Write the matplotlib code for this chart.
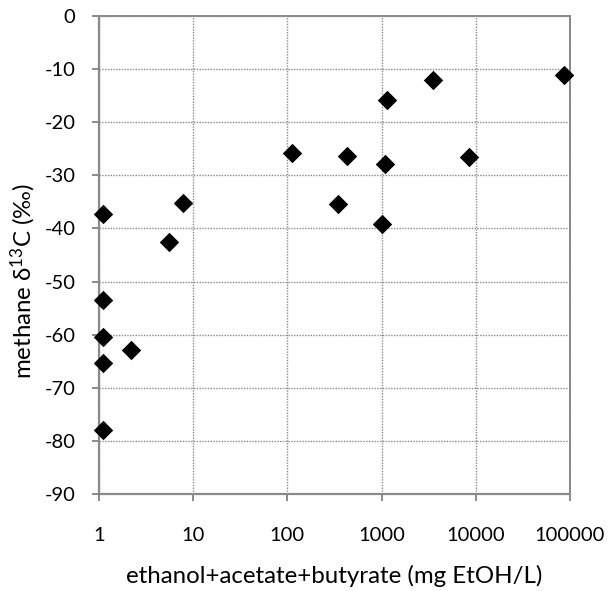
import matplotlib
matplotlib.use("Agg")
import matplotlib.pyplot as plt
from matplotlib.ticker import NullLocator

# Sum of ethanol, acetate and butyrate (mg EtOH/L) and methane delta-13C (permil)
total_vfa = [1.11, 5.48, 7.78, 113, 429, 348, 1017, 1077, 1140, 3497, 8453, 85900,
             1.11, 1.11, 2.16, 1.11, 1.11]
delta13c = [-37.2, -42.6, -35.3, -25.8, -26.4, -35.4, -39.2, -27.9, -15.9, -12.05, -26.6, -11.05,
            -53.5, -60.4, -62.8, -65.3, -78.0]

x_ticks = [1, 10, 100, 1000, 10000, 100000]
x_labels = ["1", "10", "100", "1000", "10000", "100000"]
y_ticks = list(range(-90, 1, 10))

plt.rcParams["font.family"] = ["Lato", "DejaVu Sans"]
plt.rcParams["mathtext.fontset"] = "custom"
plt.rcParams["mathtext.rm"] = "Lato"
plt.rcParams["mathtext.it"] = "Lato:italic"

W, H = 611, 591
fig = plt.figure(figsize=(W / 100, H / 100), dpi=100)
# plot area in pixels: x 99..570, y 16..494 (from top)
ax = fig.add_axes([99 / W, (H - 494) / H, (570 - 99) / W, (494 - 16) / H])

ax.scatter(total_vfa, delta13c, marker="D", s=98, color="black", linewidths=0,
           zorder=3, clip_on=False)

ax.set_xscale("log")
ax.set_xlim(1, 100000)
ax.set_ylim(-90, 0)
ax.set_xticks(x_ticks)
ax.set_xticklabels(x_labels)
ax.xaxis.set_minor_locator(NullLocator())
ax.set_yticks(y_ticks)
ax.set_yticklabels([str(v) for v in y_ticks])

gray = "#8a8a8a"
ax.grid(True, which="major", linestyle=(0, (1, 1)), color=gray, linewidth=1.0)
ax.set_axisbelow(True)
for side in ["left", "bottom"]:
    ax.spines[side].set_color(gray)
    ax.spines[side].set_linewidth(1.6)
for side in ["top", "right"]:
    ax.spines[side].set_color(gray)
    ax.spines[side].set_linewidth(1.4)
    ax.spines[side].set_linestyle((0, (1, 0.6)))

ax.tick_params(axis="x", direction="out", length=5, width=1.4, color=gray,
               labelsize=14.5, pad=18.5)
ax.tick_params(axis="y", direction="out", length=5, width=1.4, color=gray,
               labelsize=14.5, pad=12)

fig.text(334.5 / W, (H - 583) / H, "ethanol+acetate+butyrate (mg EtOH/L)",
         fontsize=17.3, ha="center", va="baseline")
fig.text(23 / W, (H - 281.5) / H, "methane δ$^{13}$C (‰)",
         fontsize=17.3, ha="center", va="center", rotation=90)

fig.savefig("out.png", dpi=100)
